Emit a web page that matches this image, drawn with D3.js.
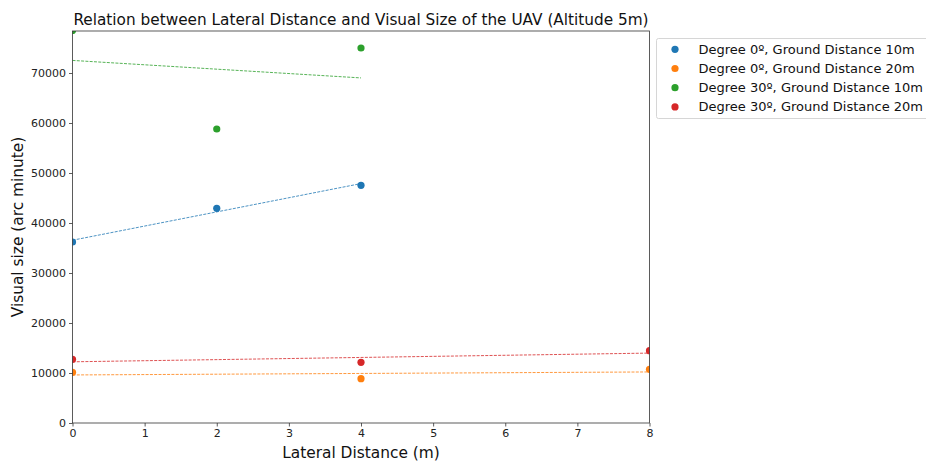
<!DOCTYPE html>
<html>
<head>
<meta charset="utf-8">
<script src="https://cdn.jsdelivr.net/npm/d3@7"></script>
<style>
  body { margin: 0; background: #fff; }
  svg { font-family: "DejaVu Sans", sans-serif; }
  .tick text { fill: #222; }
</style>
</head>
<body>
<div id="chart"></div>
<script>
// values
var seriesNames = ["Degree 0º, Ground Distance 10m", "Degree 0º, Ground Distance 20m",
                   "Degree 30º, Ground Distance 10m", "Degree 30º, Ground Distance 20m"];
var colors = ["#1f77b4", "#ff7f0e", "#2ca02c", "#d62728"];
var lateral10 = [0, 2, 4];
var lateral20 = [0, 4, 8];
var deg0dist10 = [36200, 42930, 47530];
var deg0dist20 = [10130, 8870, 10730];
var deg30dist10 = [78500, 58800, 75000];
var deg30dist20 = [12730, 12130, 14470];
var xTicks = [0, 1, 2, 3, 4, 5, 6, 7, 8];
var yTicks = [0, 10000, 20000, 30000, 40000, 50000, 60000, 70000];

var series = [
  {xs: lateral10, ys: deg0dist10},
  {xs: lateral20, ys: deg0dist20},
  {xs: lateral10, ys: deg30dist10},
  {xs: lateral20, ys: deg30dist20}
];

// least squares line, like np.polyfit(x, y, 1)
function fit(xs, ys) {
  var mx = d3.mean(xs), my = d3.mean(ys);
  var num = d3.sum(xs, function(x, i) { return (x - mx) * (ys[i] - my); });
  var den = d3.sum(xs, function(x) { return (x - mx) * (x - mx); });
  var slope = num / den;
  return function(x) { return my + slope * (x - mx); };
}

var w = 926, h = 463;
var padL = 72.5, padR = 649.5, padT = 31, padB = 423;

var svg = d3.select("#chart").append("svg")
  .attr("width", w).attr("height", h);

var x = d3.scaleLinear().domain([0, 8]).range([padL, padR]);
var y = d3.scaleLinear().domain([0, 78400]).range([padB, padT]);

svg.append("clipPath").attr("id", "plotClip")
  .append("rect")
  .attr("x", padL).attr("y", padT)
  .attr("width", padR - padL).attr("height", padB - padT);

var plot = svg.append("g").attr("clip-path", "url(#plotClip)");

// trend lines
series.forEach(function(s, i) {
  var f = fit(s.xs, s.ys);
  var x0 = d3.min(s.xs), x1 = d3.max(s.xs);
  plot.append("line")
    .attr("x1", x(x0)).attr("y1", y(f(x0)))
    .attr("x2", x(x1)).attr("y2", y(f(x1)))
    .attr("stroke", colors[i])
    .attr("stroke-width", 0.8)
    .attr("stroke-dasharray", "3,1.3");
});

// points
series.forEach(function(s, i) {
  plot.selectAll(".pt" + i)
    .data(s.ys)
    .enter()
    .append("circle")
    .attr("cx", function(d, j) { return x(s.xs[j]); })
    .attr("cy", function(d) { return y(d); })
    .attr("r", 3.6)
    .attr("fill", colors[i]);
});

// axes
var xAxis = d3.axisBottom(x).tickValues(xTicks).tickSize(3.5).tickPadding(3);
var yAxis = d3.axisLeft(y).tickValues(yTicks).tickSize(3.5).tickPadding(3)
  .tickFormat(d3.format("d"));

var gx = svg.append("g")
  .attr("transform", "translate(0," + padB + ")")
  .call(xAxis);
var gy = svg.append("g")
  .attr("transform", "translate(" + padL + ",0)")
  .call(yAxis);
[gx, gy].forEach(function(g) {
  g.select(".domain").remove();
  g.selectAll("text").style("font-size", "11px").style("font-family", "DejaVu Sans");
  g.selectAll("line").attr("stroke", "#333").attr("stroke-width", 0.8);
});

// frame
svg.append("rect")
  .attr("x", padL).attr("y", padT)
  .attr("width", padR - padL).attr("height", padB - padT)
  .attr("fill", "none").attr("stroke", "#333").attr("stroke-width", 0.8);

// title and labels
svg.append("text")
  .attr("x", (padL + padR) / 2).attr("y", 25)
  .attr("text-anchor", "middle")
  .style("font-size", "15.3px").attr("fill", "#111")
  .text("Relation between Lateral Distance and Visual Size of the UAV (Altitude 5m)");

svg.append("text")
  .attr("x", (padL + padR) / 2).attr("y", 458)
  .attr("text-anchor", "middle")
  .style("font-size", "15.4px").attr("fill", "#111")
  .text("Lateral Distance (m)");

svg.append("text")
  .attr("transform", "translate(23," + ((padT + padB) / 2) + ") rotate(-90)")
  .attr("text-anchor", "middle")
  .style("font-size", "15.4px").attr("fill", "#111")
  .text("Visual size (arc minute)");

// legend
var legend = svg.append("g");
legend.append("rect")
  .attr("x", 656.5).attr("y", 38.5)
  .attr("width", 290).attr("height", 80)
  .attr("rx", 2)
  .attr("fill", "#fff").attr("stroke", "#ccc").attr("stroke-width", 0.8);

var items = legend.selectAll(".item")
  .data(seriesNames)
  .enter()
  .append("g")
  .attr("transform", function(d, i) { return "translate(0," + (49.3 + i * 19.2) + ")"; });
items.append("circle")
  .attr("cx", 675).attr("cy", 0).attr("r", 3.6)
  .attr("fill", function(d, i) { return colors[i]; });
items.append("text")
  .attr("x", 698.5).attr("y", 0).attr("dy", "0.35em")
  .style("font-size", "13px").attr("fill", "#111")
  .text(function(d) { return d; });
</script>
</body>
</html>
